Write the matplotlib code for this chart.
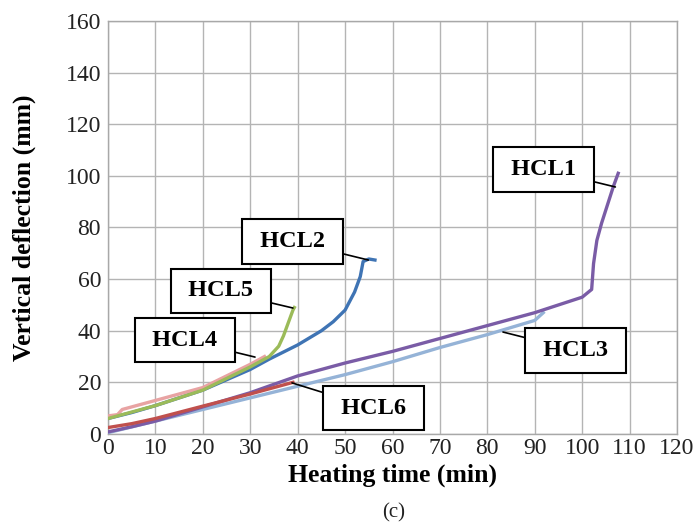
import matplotlib
matplotlib.use("Agg")
import matplotlib.pyplot as plt

# ---- data ----
hcl1_x = [0, 5, 10, 20, 30, 40, 50, 60, 70, 80, 90, 100, 101, 102, 102.4, 103.1, 104.1, 105.2, 106.6, 107.6]
hcl1_y = [0.8, 2.8, 5, 10.5, 16, 22.5, 27.5, 32, 37, 42, 47, 53, 54.5, 56, 66, 75, 81.7, 88, 96, 101]

hcl2_x = [0, 5, 10, 20, 30, 34, 40, 45, 47.5, 50, 52, 53.2, 53.8, 55, 56.3]
hcl2_y = [6, 8.3, 11, 17, 25, 29, 34.5, 40, 43.5, 48, 55, 61, 66.8, 67.8, 67.4]

hcl3_x = [0, 10, 20, 30, 40, 50, 60, 70, 80, 90, 91.8]
hcl3_y = [0.5, 5, 9.5, 14, 18.5, 23, 28, 33.5, 38.5, 44, 47]

hcl4_x = [0, 2, 3, 5, 10, 20, 30, 33]
hcl4_y = [7, 7.5, 9.5, 10.5, 13, 18, 27, 30]

hcl5_x = [0, 5, 10, 20, 30, 34, 36, 37, 38, 39, 39.3]
hcl5_y = [6, 8.5, 11, 17, 26, 30, 34, 38, 43, 48, 49]

hcl6_x = [0, 5, 10, 20, 30, 35, 39]
hcl6_y = [2.5, 4, 6, 10.8, 15.5, 18, 20]

x_ticks = [0, 10, 20, 30, 40, 50, 60, 70, 80, 90, 100, 110, 120]
y_ticks = [0, 20, 40, 60, 80, 100, 120, 140, 160]

labels = ["HCL1", "HCL2", "HCL3", "HCL4", "HCL5", "HCL6"]
label_text_pos = [(91.8, 102.5), (38.9, 74.6), (98.6, 32.4), (16.2, 36.4), (23.8, 55.4), (56.0, 10.0)]
label_point = [(107.0, 95.7), (54.9, 67.4), (83.3, 39.5), (31.0, 29.8), (39.0, 48.8), (38.8, 19.8)]

# ---- figure ----
plt.rcParams['font.family'] = ['Liberation Serif', 'DejaVu Serif']
fig = plt.figure(figsize=(6.96, 5.29), dpi=100)
ax = fig.add_axes([0.1552, 0.1796, 0.8175, 0.7807])

lw = 2.4
ax.plot(hcl3_x, hcl3_y, color='#95b3d7', lw=lw, zorder=3)
ax.plot(hcl1_x, hcl1_y, color='#7a5ca6', lw=lw, zorder=4)
ax.plot(hcl6_x, hcl6_y, color='#c0504d', lw=lw, zorder=5)
ax.plot(hcl2_x, hcl2_y, color='#3f74b4', lw=lw, zorder=3)
ax.plot(hcl4_x, hcl4_y, color='#e8a3a3', lw=lw, zorder=4)
ax.plot(hcl5_x, hcl5_y, color='#9bbb59', lw=lw, zorder=5)

ax.set_xlim(0, 120)
ax.set_ylim(0, 160)
ax.set_xticks(x_ticks)
ax.set_yticks(y_ticks)
ax.tick_params(axis='both', length=0, labelsize=17, colors='#222222')
ax.tick_params(axis='x', pad=3)
ax.tick_params(axis='y', pad=5)
ax.grid(True, color='#b4b4b4', lw=1.0, zorder=0)
ax.set_axisbelow(True)
for s in ax.spines.values():
    s.set_color('#a8a8a8')
    s.set_linewidth(1.0)

ax.set_xlabel('Heating time (min)', fontsize=18.5, fontweight='bold', labelpad=3)
ax.set_ylabel('Vertical deflection (mm)', fontsize=18.5, fontweight='bold', labelpad=21)

for name, tp, pt in zip(labels, label_text_pos, label_point):
    ax.annotate(' ' + name + ' ', xy=pt, xytext=tp, ha='center', va='center',
                fontsize=17.5, fontweight='bold', color='black', zorder=10,
                bbox=dict(boxstyle='square,pad=0.48', fc='white', ec='black', lw=1.5),
                arrowprops=dict(arrowstyle='-', color='black', lw=1.2, shrinkA=0, shrinkB=0))

fig.text(0.565, 0.030, '(c)', ha='center', va='center', fontsize=15, color='#222222')

fig.savefig('out.png', dpi=100)
